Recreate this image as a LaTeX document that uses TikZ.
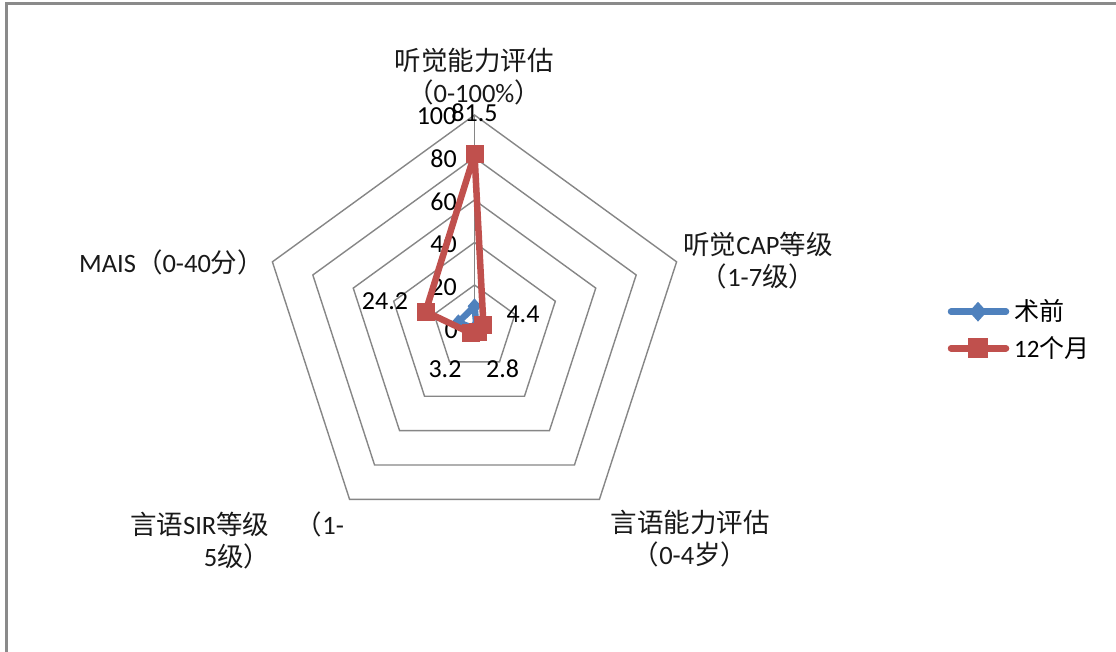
\documentclass[tikz,border=0pt]{standalone}
\usepackage{fontspec}
\setmainfont{Carlito}
\newfontfamily\cjk{Noto Sans CJK SC}
\usetikzlibrary{shapes.geometric,calc}
\definecolor{gridc}{HTML}{868686}
\definecolor{redc}{HTML}{C0504D}
\definecolor{bluec}{HTML}{4F81BD}
\definecolor{framec}{HTML}{8A8A8A}
\tikzset{
  gridline/.style={draw=gridc, line width=1.4pt, line join=miter},
  catlab/.style={font=\fontsize{26.5}{32}\selectfont, align=center, inner sep=0pt, text=black!90},
  vallab/.style={font=\fontsize{26}{30}\selectfont, inner sep=0pt, text=black},
  redline/.style={draw=redc, line width=6.5pt, line join=round},
  blueline/.style={draw=bluec, line width=6.5pt, line join=round},
  redsq/.style={rectangle, fill=redc, minimum size=18pt, inner sep=0pt},
  bluedia/.style={diamond, fill=bluec, minimum width=18pt, minimum height=20pt, inner sep=0pt},
  legtext/.style={font=\fontsize{25}{29}\selectfont, inner sep=0pt, anchor=west, text=black},
}
\begin{document}
\begin{tikzpicture}[x=1pt,y=-1pt]
\useasboundingbox (0,0) rectangle (1116,652);
\clip (0,0) rectangle (1116,652);
\fill[white] (0,0) rectangle (1116,652);
\draw[framec, line width=3pt] (6,4) rectangle (1130,670);

\coordinate (c) at (474.5,327.5);
% grid rings
\foreach \r in {42.5,85,127.5,170,212.5}{
  \draw[gridline] ($(c)+(-90:\r)$) -- ($(c)+(-18:\r)$) -- ($(c)+(54:\r)$) -- ($(c)+(126:\r)$) -- ($(c)+(198:\r)$) -- cycle;
}
\coordinate (vtop) at ($(c)+(-90:212.5)$);
\draw[gridline] (c) -- (vtop);

% ring labels
\node[vallab, anchor=east] (t0) at (458,330) {0};
\node[vallab, anchor=east] (t20) at (457,287) {20};
\node[vallab, anchor=east] (t40) at (457,244.5) {40};
\node[vallab, anchor=east] (t60) at (457,202) {60};
\node[vallab, anchor=east] (t80) at (457,159) {80};
\node[vallab, anchor=east] (t100) at (456.5,116.5) {100};

% blue series (术前)
\coordinate (b1) at ($(c)+(-90:21.25)$);
\coordinate (b2) at ($(c)+(-18:2.1)$);
\coordinate (b3) at ($(c)+(54:1.3)$);
\coordinate (b4) at ($(c)+(126:1.3)$);
\coordinate (b5) at ($(c)+(198:17)$);
\draw[blueline] (b1) -- (b2) -- (b3) -- (b4) -- (b5) -- cycle;
\foreach \p in {b1,b2,b3,b4,b5}{ \node[bluedia, minimum width=14pt, minimum height=16pt] at (\p) {}; }

% red series (12个月)
\coordinate (r1) at ($(c)+(-90:173.19)$);
\coordinate (r2) at ($(c)+(-18:9.35)$);
\coordinate (r3) at ($(c)+(54:5.95)$);
\coordinate (r4) at ($(c)+(126:6.8)$);
\coordinate (r5) at ($(c)+(198:51.43)$);
\draw[redline] (r1) -- (r2) -- (r3) -- (r4) -- (r5) -- cycle;
\foreach \p in {r1,r2,r3,r4,r5}{ \node[redsq] at (\p) {}; }

% data labels
\node[vallab] (d1) at (474.5,113) {81.5};
\node[vallab] (d2) at (523,314) {4.4};
\node[vallab] (d3) at (502.7,369) {2.8};
\node[vallab] (d4) at (445,369) {3.2};
\node[vallab] (d5) at (385,301) {24.2};

% category labels
\node[catlab] (ctop) at (474,77) {{\cjk 听觉能力评估}\\{\cjk （}0-100\%{\cjk ）}};
\node[catlab] (cright) at (758,260.5) {{\cjk 听觉}CAP{\cjk 等级}\\{\cjk （}1-7{\cjk 级）}};
\node[catlab] (cbr) at (690,538.5) {{\cjk 言语能力评估}\\{\cjk （}0-4{\cjk 岁）}};
\node[catlab] (cbl) at (237,540) {{\cjk 言语}SIR{\cjk 等级　（}1-\\5{\cjk 级）}};
\node[catlab, anchor=west] (cleft) at (79,262) {MAIS{\cjk （}0-40{\cjk 分）}};

% legend
\coordinate (la1) at (951,311.7);
\coordinate (lb1) at (1006,311.7);
\draw[bluec, line width=6.5pt, line cap=round] (la1) -- (lb1);
\node[bluedia] (lm1) at (978,311.7) {};
\node[legtext] (lt1) at (1014,311) {{\cjk 术前}};
\coordinate (la2) at (951,348.3);
\coordinate (lb2) at (1006,348.3);
\draw[redc, line width=6.5pt, line cap=round] (la2) -- (lb2);
\node[redsq, minimum size=20pt] (lm2) at (978,348.3) {};
\node[legtext] (lt2) at (1014,348) {12{\cjk 个月}};
\end{tikzpicture}
\end{document}
